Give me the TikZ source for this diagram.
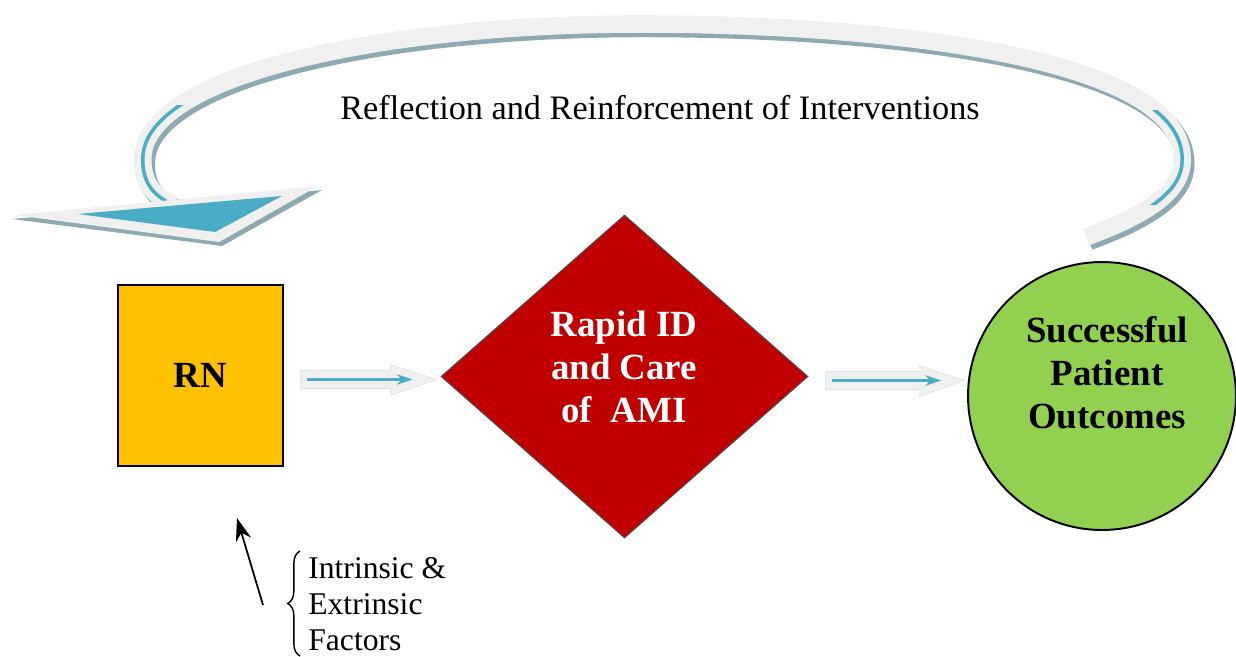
\documentclass[tikz,border=0pt]{standalone}
\usepackage{fontspec}
\setmainfont{Liberation Serif}
\usetikzlibrary{shapes.geometric,arrows.meta,calc,decorations.pathreplacing}
\definecolor{rnfill}{HTML}{FFC000}
\definecolor{amifill}{HTML}{C00000}
\definecolor{outfill}{HTML}{92D050}
\definecolor{ribbon}{HTML}{F0F0F0}
\definecolor{ribshadow}{HTML}{8DAAB3}
\definecolor{ribblue}{HTML}{4BACC6}
\newcommand{\ribpath}{(1086,237) .. controls (1160,210) and (1185,185) .. (1182,155)
  .. controls (1175,60) and (900,24) .. (640,24)
  .. controls (380,24) and (150,75) .. (143,155)
  .. controls (141,180) and (152,196) .. (174,205)}
\newcommand{\blockarr}[2]{%
  \fill[ribshadow,shift={(2,4)}] ($(#1)+(0,-9)$) -- ($(#2)+(-46,-9)$) -- ($(#2)+(-46,-15)$) -- (#2) -- ($(#2)+(-46,16)$) -- ($(#2)+(-46,9)$) -- ($(#1)+(0,9)$) -- cycle;
  \fill[ribbon] ($(#1)+(0,-9)$) -- ($(#2)+(-46,-9)$) -- ($(#2)+(-46,-15)$) -- (#2) -- ($(#2)+(-46,16)$) -- ($(#2)+(-46,9)$) -- ($(#1)+(0,9)$) -- cycle;
  \draw[ribblue,line width=1.2pt,-{Stealth[length=9pt,width=6pt]}] ($(#1)+(6,0)$) -- ($(#2)+(-24,0)$);
}
\begin{document}
\begin{tikzpicture}[x=0.02cm,y=-0.02cm,
  bigtext/.style={font=\fontsize{21}{24.5}\selectfont\bfseries, align=center},
  plaintext/.style={font=\fontsize{19.5}{23}\selectfont}]
\useasboundingbox (0,0) rectangle (1236,656);

% nodes
\node[draw=black, line width=0.8pt, fill=rnfill, minimum width=3.3cm, minimum height=3.62cm, bigtext] (rn) at (200.5,375.5) {RN};
\node[diamond, draw=black!70, line width=0.6pt, fill=amifill, minimum width=7.34cm, minimum height=6.46cm, inner sep=0pt, bigtext, text=white] (ami) at (624.5,376.5) {};
\node[bigtext, text=white] (amitext) at (624,367) {Rapid ID\\and Care\\of\ \ AMI};
\node[circle, draw=black, line width=1.1pt, fill=outfill, minimum size=5.36cm, inner sep=0pt] (out) at (1102,396) {};
\node[bigtext] (outtext) at (1107,373) {Successful\\Patient\\Outcomes};

% feedback ribbon
\coordinate (fbstart) at (1086,237);
\coordinate (fbtip) at (12,217);
\draw[ribshadow, line width=10.5pt, shift={(3,4)}] \ribpath;
\draw[ribbon, line width=10pt] \ribpath;
\begin{scope}
  \clip (0,105) rectangle (200,260) (1120,110) rectangle (1236,205);
  \draw[ribblue, line width=2pt] \ribpath;
\end{scope}
\fill[ribshadow] (12,219) -- (322,190) -- (222,246) -- cycle;
\fill[ribbon] (14,215) -- (318,186) -- (219,242) -- cycle;
\fill[ribblue] (78,214) -- (282,196) -- (215,232) -- cycle;

\node[plaintext] (fbtext) at (660,108) {Reflection and Reinforcement of Interventions};

% block arrows
\coordinate (a1s) at ($(rn.east)+(17,4)$);
\coordinate (a1e) at ($(ami.west |- a1s)+(-4,0)$);
\blockarr{a1s}{a1e}
\coordinate (a2s) at ($(ami.east)+(17,4)$);
\coordinate (a2e) at ($(out.west |- a2s)+(-2,0)$);
\blockarr{a2s}{a2e}

% factors
\coordinate (fstail) at (263,605);
\coordinate (fshead) at (237,518);
\draw[line width=1pt, -{Stealth[length=13pt,width=9pt]}] (fstail) -- (fshead);
\draw[line width=0.8pt, decorate, decoration={brace, amplitude=7pt}] (300,656) -- (300,551);
\node[font=\fontsize{18}{20.4}\selectfont, align=left, anchor=west, inner sep=0pt] (factors) at (308,604) {Intrinsic \&\\Extrinsic\\Factors};
\end{tikzpicture}
\end{document}
